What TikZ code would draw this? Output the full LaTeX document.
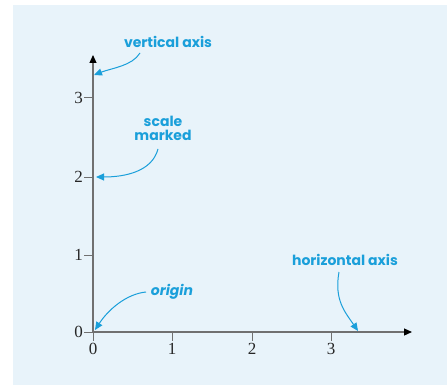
\documentclass[tikz,border=0pt]{standalone}
\usepackage{fontspec}
\newfontfamily\notefont{Poppins}
\newfontfamily\numfont{Liberation Serif}
\usetikzlibrary{arrows.meta}
\definecolor{bgblue}{HTML}{E8F3FA}
\definecolor{notecol}{HTML}{1A9FDA}
\definecolor{axiscol}{HTML}{707070}
\tikzset{
  axisline/.style={draw=axiscol, line width=1.2pt, -{Triangle[length=8pt,width=7pt,fill=black,color=black]}},
  tickline/.style={draw=axiscol, line width=1pt},
  ticklabel/.style={font=\numfont\fontsize{17}{19}\selectfont, text=black!85},
  note/.style={font=\notefont\bfseries\fontsize{14}{16}\selectfont, text=notecol, align=center, inner sep=1pt},
  notearrow/.style={draw=notecol, line width=1pt, -{Triangle[length=8pt,width=7pt]}},
}
\begin{document}
\begin{tikzpicture}[x=1pt,y=-1pt]
\useasboundingbox (0,0) rectangle (447,385);
\fill[bgblue] (13,5) rectangle (447,385);
% axes
\coordinate (O) at (93,332);
\coordinate (ytop) at (93,55);
\coordinate (xend) at (412,332);
\draw[axisline] (O) -- (ytop);
\draw[axisline] (O) -- (xend);
% y ticks
\foreach \v/\yy in {0/332,1/255,2/177,3/98}{
  \coordinate (yt\v) at (93,\yy);
  \coordinate (ytl\v) at (84,\yy);
  \draw[tickline] (yt\v) -- (ytl\v);
  \node[ticklabel, anchor=east, inner sep=1pt] (yl\v) at (ytl\v) {\v};
}
% x ticks
\foreach \v/\xx in {0/93,1/172,2/252,3/331}{
  \coordinate (xt\v) at (\xx,332);
  \coordinate (xtl\v) at (\xx,341);
  \draw[tickline] (xt\v) -- (xtl\v);
  \node[ticklabel, anchor=north, inner sep=2pt] (xl\v) at (xtl\v) {\v};
}
% notes
\node[note] (nvert) at (168,42) {vertical axis};
\node[note] (nscale) at (163,128) {scale\\[-2pt]marked};
\node[note] (nhoriz) at (345,260) {horizontal axis};
\node[note, font=\notefont\bfseries\itshape\fontsize{14}{16}\selectfont] (norig) at (172,292) {origin};
\coordinate (avert) at (94,75);
\coordinate (ascale) at (96,177);
\coordinate (ahoriz) at (358,331);
\coordinate (aorig) at (95,330);
\draw[notearrow] (140,53) .. controls (132,66) and (112,68) .. (avert);
\draw[notearrow] (158,149) .. controls (152,172) and (124,177) .. (ascale);
\draw[notearrow] (339,272) .. controls (334,300) and (345,312) .. (ahoriz);
\draw[notearrow] (146,292) .. controls (126,294) and (108,310) .. (aorig);
\end{tikzpicture}
\end{document}
